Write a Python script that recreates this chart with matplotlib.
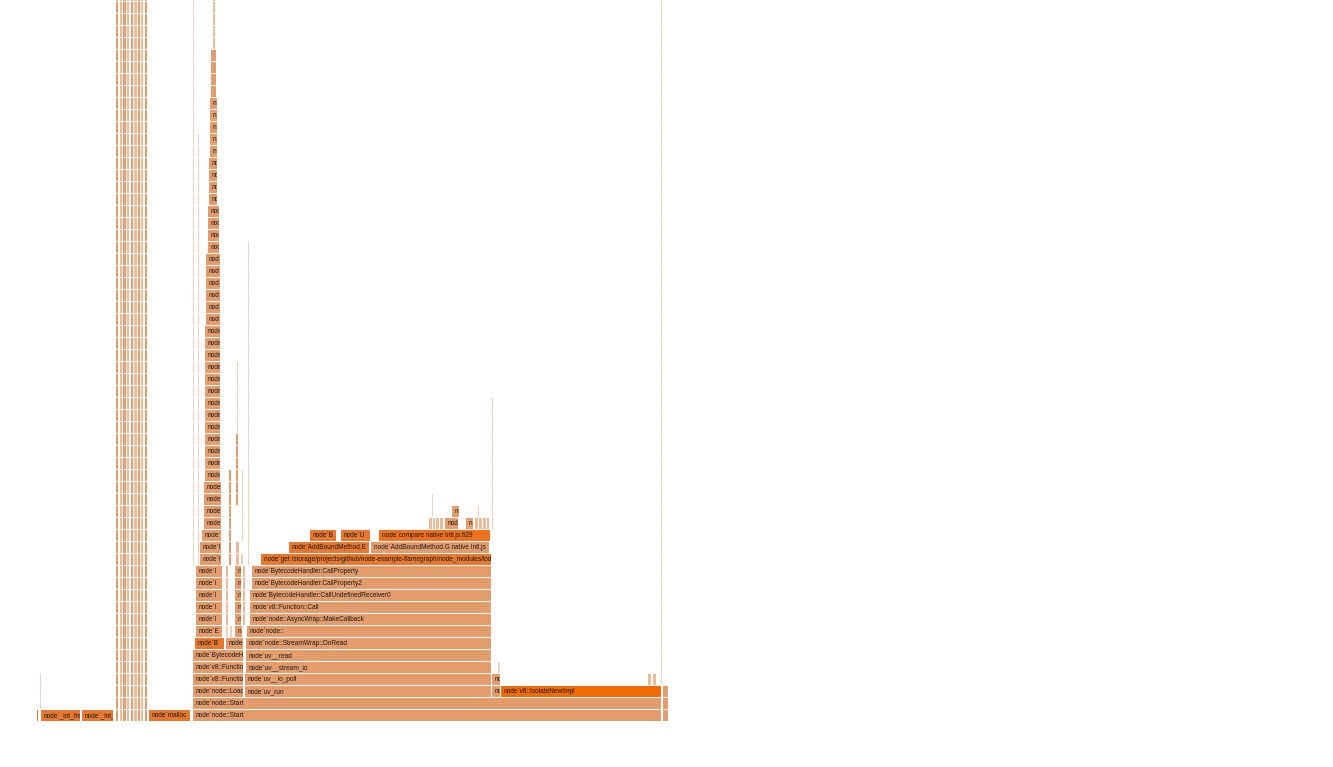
import numpy as np
import matplotlib
matplotlib.use("Agg")
import matplotlib.pyplot as plt

# flame graph frames (1 sample ~ 1 px)
# labelled frames of the lower part: depth, start, width, name
depth = [0, 0, 0, 0, 0, 0,
         1, 1,
         2, 2, 2, 2, 2,
         3, 3, 3, 3, 3,
         4, 4, 4,
         5, 5,
         6, 6, 6,
         7, 7, 7, 7, 7,
         8, 8, 8, 8, 8,
         9, 9, 9, 9, 9,
         10, 10, 10, 10, 10,
         11, 11, 11, 11, 11,
         12, 12, 12, 12, 12,
         13, 13, 13, 13,
         14, 14, 14, 14,
         15, 15, 15, 15,
         16, 16, 16, 16, 16, 16, 16, 16, 16, 16, 16,
         17, 17]
start = [37, 41, 82, 149, 193, 663,
         193, 663,
         193, 245, 492, 501, 663,
         193, 245, 492, 648, 653,
         193, 246, 498,
         193, 246,
         195, 226, 246,
         196, 226, 230, 235, 247,
         196, 226, 235, 243, 250,
         196, 226, 235, 243, 250,
         196, 226, 235, 243, 250,
         196, 226, 235, 243, 252,
         196, 226, 235, 243, 252,
         200, 236, 241, 261,
         200, 236, 289, 371,
         202, 310, 341, 379,
         204, 429, 432.5, 436, 439.5, 445, 466, 475, 479, 483, 487,
         204, 452]
width = [1.5, 40, 32, 42, 469, 6,
         469, 6,
         51, 247, 9, 161, 6,
         51, 247, 9, 4, 4,
         51, 246, 2,
         51, 246,
         30, 18, 246,
         27, 2, 2, 8, 245,
         27, 3, 7, 3, 242,
         27, 3, 7, 3, 242,
         27, 3, 7, 3, 242,
         27, 3, 7, 3, 240,
         27, 3, 7, 3, 240,
         22, 4, 2, 231,
         22, 4, 81, 119,
         20, 27, 30, 112,
         18, 3.5, 3.5, 3.5, 4, 14, 8, 4, 4, 4, 3,
         18, 8]
name = ["node`_int_free", "node`_int_free", "node`_int_malloc", "node`malloc",
        "node`node::Start", "node`start",
        "node`node::Start", "node`main",
        "node`node::LoadEnvironment", "node`uv_run", "node`uv", "node`v8::IsolateNewImpl", "node`",
        "node`v8::Function::Call", "node`uv__io_poll", "node`uv", "", "",
        "node`v8::Function::Call", "node`uv__stream_io", "",
        "node`BytecodeHandler:Call", "node`uv__read",
        "node`B", "node`Builtins", "node`node::StreamWrap::OnRead",
        "node`E", "", "", "node`", "node`node::",
        "node`I", "", "node`", "", "node`node::AsyncWrap::MakeCallback",
        "node`I", "", "node`", "", "node`v8::Function::Call",
        "node`I", "", "node`", "", "node`BytecodeHandler:CallUndefinedReceiver0",
        "node`I", "", "node`", "", "node`BytecodeHandler:CallProperty2",
        "node`I", "", "node`", "", "node`BytecodeHandler:CallProperty",
        "node`Interpreter", "", "",
        "node`get /storage/projects/github/node-example-flamegraph/node_modules/lodash/sortBy.js",
        "node`Interpreter", "", "node`AddBoundMethod.E", "node`AddBoundMethod.G native Intl.js",
        "node`Interpreter", "node`B", "node`U", "node`compare native Intl.js:629",
        "node`Interpreter", "", "", "", "", "node`", "node`", "", "", "", "",
        "node`Interpreter", "node`"]

# frames drawn in stronger orange
orange_names = {"node`_int_free", "node`_int_malloc", "node`malloc", "node`AddBoundMethod.E",
                "node`B", "node`U",
                "node`get /storage/projects/github/node-example-flamegraph/node_modules/lodash/sortBy.js"}
hot_names = {"node`compare native Intl.js:629"}
bright_names = {"node`v8::IsolateNewImpl"}

# the tall tower over node`node::LoadEnvironment: (first depth, last depth, start, end)
tower = [(18, 19, 204, 222), (20, 26, 205, 221), (27, 32, 205, 221),
         (33, 38, 206, 221), (39, 42, 208, 220), (43, 46, 209, 218),
         (47, 51, 210, 218), (52, 55, 211, 217), (56, 62, 213, 216)]

# the block of deep thin stacks next to malloc: start, width, top depth
block_start = [115.5, 119.5, 123, 126.5, 130.5, 134, 137.5, 141, 144.5]
block_width = [3.5, 3.0, 3.5, 3.5, 3.0, 3.5, 3.5, 3.0, 3.5]
block_top = [62, 62, 62, 62, 62, 62, 62, 62, 62]

# thin faint stacks: start, width, first depth, last depth
thin = [(37.5, 1.0, 1, 9), (40, 1.0, 1, 3), (193, 1.0, 13, 62), (198, 1.0, 13, 48),
        (200.5, 1.0, 16, 40), (226.5, 1.2, 13, 18), (229, 2.5, 13, 20),
        (236, 3.0, 18, 23), (237, 1.0, 24, 29), (241.5, 1.5, 15, 20),
        (248, 1.0, 13, 39), (492, 1.0, 16, 26), (661, 1.0, 3, 62),
        (432, 1.0, 17, 18), (478, 1.0, 17, 17)]

SALMON = "#E49C6D"
LIGHT = "#EDBA98"
FAINT = "#F2CFB8"
ORANGE = "#E8782F"
HOT = "#EE701F"
BRIGHT = "#F26A04"
FONT = ["Liberation Sans", "DejaVu Sans"]
FS = 4.7


def color_of(n, w):
    if n in bright_names:
        return BRIGHT
    if n in hot_names:
        return HOT
    if n in orange_names:
        return ORANGE
    if w <= 2:
        return FAINT
    if w <= 4:
        return LIGHT
    return SALMON


def draw_w(w):
    if w <= 2:
        return w * 0.8
    return max(w - 1.0, w * 0.6)


# expand tower ranges into frames
for lo, hi, s, e in tower:
    for k in range(lo, hi + 1):
        depth.append(k)
        start.append(s)
        width.append(e - s)
        name.append("node`")

fig = plt.figure(figsize=(13.33, 7.67), dpi=100)
ax = fig.add_axes([0, 0, 1, 1])
ax.set_xlim(0, 1333)
ax.set_ylim(-46 / 12, (767 - 46) / 12)
ax.axis("off")
renderer = fig.canvas.get_renderer()

H = 0.915

for s, w, lo, hi in thin:
    d = np.arange(lo, hi + 1)
    ax.barh(d + H / 2, draw_w(w), left=s, height=H,
            color=FAINT if w <= 1.5 else SALMON, linewidth=0)

for i, (s, w, top) in enumerate(zip(block_start, block_width, block_top)):
    d = np.arange(0, top + 1)
    ax.barh(d + H / 2, draw_w(w), left=s, height=H,
            color=SALMON if i % 2 == 0 else LIGHT, linewidth=0)

bars = ax.barh(np.array(depth) + H / 2, [draw_w(w) for w in width], left=start,
               height=H, color=[color_of(n, w) for n, w in zip(name, width)], linewidth=0)
for rect, d, s, w, n in zip(bars, depth, start, width, name):
    if not n or w < 7:
        continue
    t = ax.text(s + 2.5, d + H / 2, n, fontsize=FS, va="center", ha="left",
                family=FONT, color="#1a1a1a", clip_on=True)
    # drop characters that would spill far past the frame, clip the rest to it
    room = w - 3.5
    while len(t.get_text()) > 1:
        ext = t.get_window_extent(renderer)
        if ext.width <= room + 2.5:
            break
        t.set_text(t.get_text()[:-1])
    t.set_clip_path(rect)

fig.savefig("out.png", dpi=100)
